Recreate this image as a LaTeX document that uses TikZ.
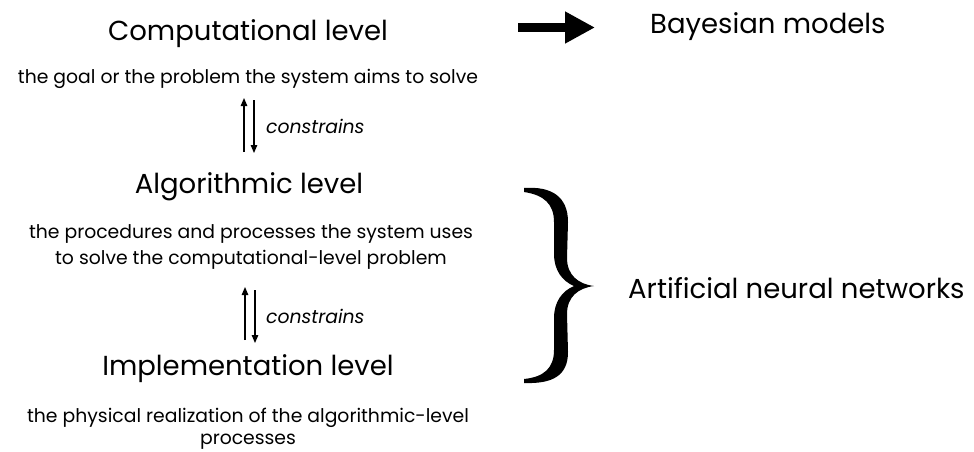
\documentclass[tikz,border=0pt]{standalone}
\usepackage{fontspec}
\setmainfont{Poppins}
\usetikzlibrary{arrows.meta}
\tikzset{
  big/.style={font=\fontsize{27.5}{32}\selectfont, anchor=base, inner sep=0pt},
  desc/.style={font=\fontsize{18.8}{24}\selectfont, anchor=base, inner sep=0pt},
  cons/.style={font=\fontsize{18.8}{22}\selectfont\itshape, anchor=base west, inner sep=0pt},
  small arrow/.style={line width=1.3pt, -{Triangle[width=6.5pt,length=8pt]}},
}
\begin{document}
\begin{tikzpicture}[x=1pt,y=-1pt]
\useasboundingbox (0,0) rectangle (974,451);
% level titles
\node[big] (comp) at (248,40) {Computational level};
\node[desc] (compd) at (248,83) {the goal or the problem the system aims to solve};
\node[big] (algo) at (249,193) {Algorithmic level};
\node[desc] (algod1) at (251,238) {the procedures and processes the system uses};
\node[desc] (algod2) at (251,264) {to solve the computational-level problem};
\node[big] (impl) at (248,375) {Implementation level};
\node[desc] (impld1) at (248,422) {the physical realization of the algorithmic-level};
\node[desc] (impld2) at (248,444.5) {processes};
% constrains arrows
\coordinate (u1a) at (244,152); \coordinate (u1b) at (244,98);
\coordinate (d1a) at (254,100); \coordinate (d1b) at (254,153);
\draw[small arrow] (u1a) -- (u1b);
\draw[small arrow] (d1a) -- (d1b);
\node[cons] (c1) at (266,133) {constrains};
\coordinate (u2a) at (245,340); \coordinate (u2b) at (245,287);
\coordinate (d2a) at (255,290); \coordinate (d2b) at (255,343);
\draw[small arrow] (u2a) -- (u2b);
\draw[small arrow] (d2a) -- (d2b);
\node[cons] (c2) at (266,323) {constrains};
% right side
\node[big, anchor=base west] (bayes) at (650,33) {Bayesian models};
\coordinate (ba) at (518,27.5); \coordinate (bb) at (595,27.5);
\draw[line width=9pt, -{Triangle[width=30pt,length=30pt]}] (ba) -- (bb);
\node[big, anchor=base west] (ann) at (628,298) {Artificial neural networks};
% brace
\fill (524,188) .. controls (552,186) and (568,197) .. (568,222)
  -- (567,258) .. controls (567,275) and (578,284) .. (594,286)
  .. controls (578,288) and (567,297) .. (567,314)
  -- (568,352) .. controls (568,376) and (552,384) .. (524,383)
  -- (524,379) .. controls (544,377) and (554,368) .. (554,350)
  -- (554,318) .. controls (554,302) and (562,291) .. (574,286)
  .. controls (562,281) and (554,270) .. (554,254)
  -- (554,222) .. controls (554,204) and (544,195) .. (524,192) -- cycle;
\end{tikzpicture}
\end{document}
